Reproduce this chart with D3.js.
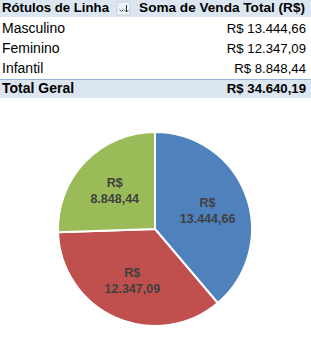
<!DOCTYPE html>
<html>
<head>
<meta charset="utf-8">
<script src="https://cdn.jsdelivr.net/npm/d3@7"></script>
<style>
  body { margin: 0; background: #fff; }
  svg { display: block; font-family: "Liberation Sans", Arial, sans-serif; }
</style>
</head>
<body>
<div id="chart"></div>
<script>
// data
var categories = ["Masculino", "Feminino", "Infantil"];
var values = [13444.66, 12347.09, 8848.44];
var valueLabels = ["R$ 13.444,66", "R$ 12.347,09", "R$ 8.848,44"];
var totalLabel = "R$ 34.640,19";
var colors = ["#4F81BD", "#C0504D", "#9BBB59"];

var svgWidth = 311;
var svgHeight = 357;

var svg = d3.select("#chart")
  .append("svg")
  .attr("width", svgWidth)
  .attr("height", svgHeight);

// ---- pivot table ----
var table = svg.append("g");
var rowY = d3.scaleLinear().domain([0, 1]).range([33, 53]);

// header
table.append("rect")
  .attr("x", 0).attr("y", 0)
  .attr("width", svgWidth).attr("height", 17)
  .attr("fill", "#DCE6F1");

table.append("text")
  .attr("x", 2).attr("y", 12)
  .attr("font-size", 13.2).attr("font-weight", "bold")
  .attr("fill", "#000")
  .text("Rótulos de Linha");

// filter/sort button
var btn = table.append("g").attr("transform", "translate(117, 2)");
btn.append("rect")
  .attr("width", 13).attr("height", 13)
  .attr("fill", "#EEF3F9").attr("stroke", "#C5D2E3");
btn.append("path")
  .attr("d", "M2.5,7.5 L4.5,9.5 L6.5,7.5")
  .attr("fill", "none").attr("stroke", "#555").attr("stroke-width", 1);
btn.append("path")
  .attr("d", "M9.5,3 L9.5,10 M7.8,8.3 L9.5,10 L11.2,8.3")
  .attr("fill", "none").attr("stroke", "#333").attr("stroke-width", 1);

table.append("text")
  .attr("x", 305).attr("y", 12)
  .attr("text-anchor", "end")
  .attr("font-size", 13.6).attr("font-weight", "bold")
  .text("Soma de Venda Total (R$)");

// body rows
categories.forEach(function(c, i) {
  table.append("text")
    .attr("x", 2).attr("y", rowY(i))
    .attr("font-size", 14)
    .text(c);
  table.append("text")
    .attr("x", 306).attr("y", rowY(i))
    .attr("text-anchor", "end")
    .attr("font-size", 13.2)
    .text(valueLabels[i]);
});

// total row
table.append("rect")
  .attr("x", 0).attr("y", 79)
  .attr("width", svgWidth).attr("height", 19)
  .attr("fill", "#DCE6F1");
table.append("line")
  .attr("x1", 0).attr("x2", svgWidth)
  .attr("y1", 79.5).attr("y2", 79.5)
  .attr("stroke", "#95B3D7");
table.append("text")
  .attr("x", 2).attr("y", 93)
  .attr("font-size", 14).attr("font-weight", "bold")
  .text("Total Geral");
table.append("text")
  .attr("x", 306).attr("y", 93)
  .attr("text-anchor", "end")
  .attr("font-size", 13.2).attr("font-weight", "bold")
  .text(totalLabel);

// ---- pie chart ----
var radius = 97;
var pieGroup = svg.append("g")
  .attr("transform", "translate(155, 229)");

var pie = d3.pie().sort(null).value(d => d);
var arc = d3.arc().innerRadius(0).outerRadius(radius);
var labelArc = d3.arc().innerRadius(56).outerRadius(56);

var slices = pieGroup.selectAll("g.slice")
  .data(pie(values))
  .enter()
  .append("g")
  .attr("class", "slice");

slices.append("path")
  .attr("d", arc)
  .attr("fill", (d, i) => colors[i])
  .attr("stroke", "#fff")
  .attr("stroke-width", 2);

var labels = slices.append("text")
  .attr("transform", d => `translate(${labelArc.centroid(d)})`)
  .attr("text-anchor", "middle")
  .attr("font-size", 12.5)
  .attr("font-weight", "bold")
  .attr("fill", "#404040");

labels.append("tspan")
  .attr("x", 0).attr("dy", -3)
  .text("R$");
labels.append("tspan")
  .attr("x", 0).attr("dy", 16)
  .text((d, i) => valueLabels[i].replace("R$ ", ""));
</script>
</body>
</html>
